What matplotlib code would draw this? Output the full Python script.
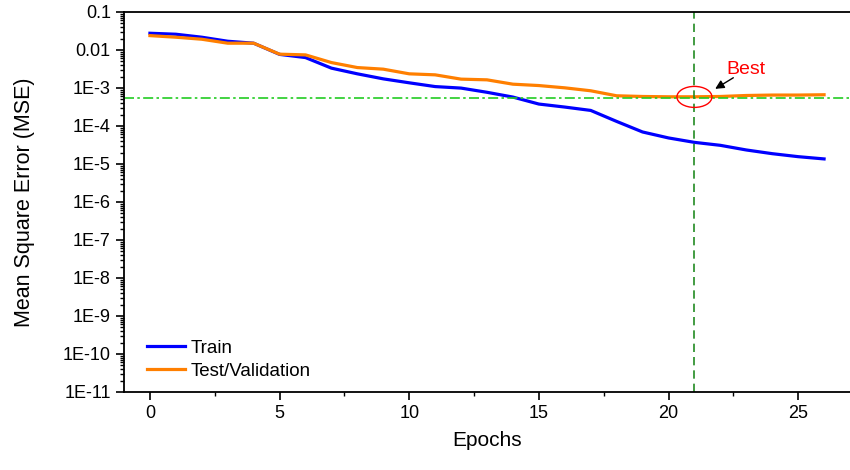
import numpy as np
import matplotlib.pyplot as plt
from matplotlib.patches import Ellipse
from matplotlib.ticker import LogLocator, MultipleLocator, FixedLocator, NullFormatter

plt.rcParams['font.family'] = ['Liberation Sans', 'DejaVu Sans']

# 数据
epochs = list(range(27))
train_mse = [0.0276, 0.0260, 0.0217, 0.0170, 0.0151, 0.00767, 0.00632, 0.00333, 0.00236,
             0.00174, 0.00137, 0.00109, 9.94e-4, 7.71e-4, 5.77e-4, 3.78e-4, 3.15e-4, 2.57e-4,
             1.32e-4, 6.96e-5, 4.85e-5, 3.71e-5, 3.10e-5, 2.34e-5, 1.87e-5, 1.56e-5, 1.36e-5]
val_mse = [0.0239, 0.0217, 0.0192, 0.0151, 0.0151, 0.00776, 0.00744, 0.00467, 0.00345,
           0.00313, 0.00236, 0.00222, 0.00171, 0.00164, 0.00126, 0.00116, 0.00101, 8.45e-4,
           6.24e-4, 5.98e-4, 5.87e-4, 5.87e-4, 5.98e-4, 6.35e-4, 6.52e-4, 6.52e-4, 6.64e-4]
best_epoch = 21
best_mse = 5.3e-4
ytick_vals = [1e-1, 1e-2, 1e-3, 1e-4, 1e-5, 1e-6, 1e-7, 1e-8, 1e-9, 1e-10, 1e-11]
ytick_labels = ['0.1', '0.01', '1E-3', '1E-4', '1E-5', '1E-6', '1E-7', '1E-8', '1E-9', '1E-10', '1E-11']

fig = plt.figure(figsize=(8.5, 4.7), dpi=100)
ax = fig.add_axes([124/850, 78/470, 1 - 124/850, 380/470])

ax.plot(epochs, train_mse, color='#0000ff', lw=2.3, label='Train')
ax.plot(epochs, val_mse, color='#ff7f00', lw=2.3, label='Test/Validation')
ax.axhline(best_mse, color='#22cc22', lw=1.2, ls=(0, (6, 2, 1.5, 2)))
ax.axvline(best_epoch, color='#228b22', lw=1.2, ls=(0, (5, 3)))

ax.set_yscale('log')
ax.set_ylim(1e-11, 1e-1)
ax.set_xlim(-1, 27)
ax.yaxis.set_major_locator(FixedLocator(ytick_vals))
ax.set_yticklabels(ytick_labels)
ax.yaxis.set_minor_locator(LogLocator(base=10, subs=np.arange(2, 10), numticks=100))
ax.yaxis.set_minor_formatter(NullFormatter())
ax.xaxis.set_major_locator(MultipleLocator(5))
ax.xaxis.set_minor_locator(MultipleLocator(2.5))

ax.spines['right'].set_visible(False)
for s in ['left', 'bottom', 'top']:
    ax.spines[s].set_linewidth(1.3)
ax.tick_params(which='major', direction='out', length=6, width=1.2, labelsize=13)
ax.tick_params(which='minor', direction='out', length=3, width=1)
ax.tick_params(axis='x', which='both', top=False)

ax.set_xlabel('Epochs', fontsize=15, labelpad=6)
ax.set_ylabel('Mean Square Error (MSE)', fontsize=15.5, labelpad=20)

# 最佳点标记：椭圆 + 箭头 + 文字
x0, y0 = ax.transData.transform((best_epoch, best_mse * 1.1))
fig.patches.append(Ellipse((x0, y0), width=35, height=21, transform=None,
                           fill=False, edgecolor='red', lw=1))
ax.annotate('', xy=(21.8, 9.5e-4), xytext=(22.5, 1.86e-3),
            arrowprops=dict(arrowstyle='-|>', color='black', lw=1, shrinkA=0, shrinkB=0,
                            mutation_scale=13))
ax.text(23.0, 3.0e-3, 'Best', color='red', fontsize=14, ha='center', va='center')

ax.legend(loc='lower left', bbox_to_anchor=(0.008, -0.012), frameon=False, fontsize=13.5,
          handlelength=2.05, handletextpad=0.3, labelspacing=0.3)

plt.savefig('out.png', dpi=100)
